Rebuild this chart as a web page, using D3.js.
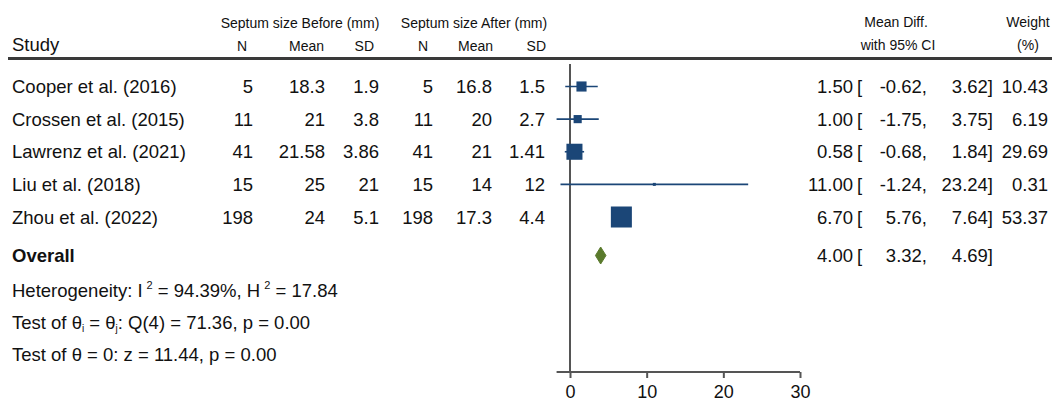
<!DOCTYPE html>
<html>
<head>
<meta charset="utf-8">
<script src="https://cdn.jsdelivr.net/npm/d3@7/dist/d3.min.js"></script>
<style>
  html, body { margin: 0; padding: 0; background: #fff; }
  svg { display: block; font-family: "Liberation Sans", Arial, sans-serif; }
</style>
</head>
<body>
<svg id="chart" width="1052" height="401"></svg>
<script>
// Studies and their summary data
const studies   = ["Cooper et al. (2016)", "Crossen et al. (2015)", "Lawrenz et al. (2021)", "Liu et al. (2018)", "Zhou et al. (2022)"];
const nBefore   = ["5", "11", "41", "15", "198"];
const meanBefore= ["18.3", "21", "21.58", "25", "24"];
const sdBefore  = ["1.9", "3.8", "3.86", "21", "5.1"];
const nAfter    = ["5", "11", "41", "15", "198"];
const meanAfter = ["16.8", "20", "21", "14", "17.3"];
const sdAfter   = ["1.5", "2.7", "1.41", "12", "4.4"];
const meanDiff  = [1.50, 1.00, 0.58, 11.00, 6.70];
const ciLower   = [-0.62, -1.75, -0.68, -1.24, 5.76];
const ciUpper   = [3.62, 3.75, 1.84, 23.24, 7.64];
const weights   = [10.43, 6.19, 29.69, 0.31, 53.37];

// Pooled estimate
const overall = { md: 4.00, lo: 3.32, hi: 4.69 };
const statLines = [
  [{t: "Heterogeneity: I"}, {t: "2", sup: true}, {t: " = 94.39%, H"}, {t: "2", sup: true}, {t: " = 17.84"}],
  [{t: "Test of θ"}, {t: "i", sub: true}, {t: " = θ"}, {t: "j", sub: true}, {t: ": Q(4) = 71.36, p = 0.00"}],
  [{t: "Test of θ = 0: z = 11.44, p = 0.00"}]
];
const xTicks = [0, 10, 20, 30];

const svg = d3.select("#chart");
const navy = "#1b4677";
const green = "#5a7a2c";
const ink = "#111";
const fs = 18.5;

// Scales
const x = d3.scaleLinear().domain([0, 30]).range([570, 800]);
const y = d3.scalePoint().domain(studies).range([86.5, 217]);
const yOverall = 255.5;
const boxSize = d3.scaleSqrt().domain([0, d3.max(weights)]).range([0, 19.5]);

// Header
const hdr = svg.append("g").attr("font-size", 14).attr("fill", ink);
hdr.append("text").attr("x", 300).attr("y", 28).attr("text-anchor", "middle").text("Septum size Before (mm)");
hdr.append("text").attr("x", 474).attr("y", 28).attr("text-anchor", "middle").text("Septum size After (mm)");
hdr.append("text").attr("x", 896).attr("y", 27).attr("text-anchor", "middle").text("Mean Diff.");
hdr.append("text").attr("x", 1028).attr("y", 27).attr("text-anchor", "middle").text("Weight");
hdr.append("text").attr("x", 898).attr("y", 50).attr("text-anchor", "middle").text("with 95% CI");
hdr.append("text").attr("x", 1028).attr("y", 50).attr("text-anchor", "middle").text("(%)");
const subHeads = [["N", 247], ["Mean", 324], ["SD", 374], ["N", 428], ["Mean", 493], ["SD", 546]];
subHeads.forEach(([t, xr]) => {
  hdr.append("text").attr("x", xr).attr("y", 51).attr("text-anchor", "end").text(t);
});
svg.append("text").attr("x", 12).attr("y", 51).attr("font-size", 18.5).attr("fill", ink).text("Study");
svg.append("line").attr("x1", 8).attr("x2", 1052).attr("y1", 58.5).attr("y2", 58.5)
  .attr("stroke", "#3a3a3a").attr("stroke-width", 3);

// Table columns (right edges)
const cols = [
  [nBefore, 253], [meanBefore, 325], [sdBefore, 379],
  [nAfter, 433], [meanAfter, 492], [sdAfter, 545]
];
const body = svg.append("g").attr("font-size", fs).attr("fill", ink);
studies.forEach((s, i) => {
  const yy = y(s) + 6.6;
  body.append("text").attr("x", 12).attr("y", yy).text(s);
  cols.forEach(([arr, xr]) => {
    body.append("text").attr("x", xr).attr("y", yy).attr("text-anchor", "end").text(arr[i]);
  });
});

// Effect-size text columns
function ciText(md, lo, hi, w, yy) {
  body.append("text").attr("x", 853).attr("y", yy).attr("text-anchor", "end").text(md.toFixed(2));
  body.append("text").attr("x", 857).attr("y", yy).text("[");
  body.append("text").attr("x", 927).attr("y", yy).attr("text-anchor", "end").text(lo.toFixed(2) + ",");
  body.append("text").attr("x", 993).attr("y", yy).attr("text-anchor", "end").text(hi.toFixed(2) + "]");
  if (w != null) body.append("text").attr("x", 1048).attr("y", yy).attr("text-anchor", "end").text(w.toFixed(2));
}
studies.forEach((s, i) => ciText(meanDiff[i], ciLower[i], ciUpper[i], weights[i], y(s) + 6.6));
ciText(overall.md, overall.lo, overall.hi, null, yOverall + 6.6);

// Overall label and statistics
body.append("text").attr("x", 12).attr("y", yOverall + 6.6).attr("font-weight", "bold").text("Overall");
statLines.forEach((parts, k) => {
  const t = body.append("text").attr("x", 12).attr("y", 296.5 + k * 32);
  parts.forEach(p => {
    const ts = t.append("tspan").text(p.t);
    if (p.sup) ts.attr("font-size", 11).attr("baseline-shift", "75%").attr("dx", 4);
    if (p.sub) ts.attr("font-size", 10).attr("baseline-shift", "-25%");
  });
});

// Zero reference line
const axisY = 372;
svg.append("line").attr("x1", x(0)).attr("x2", x(0)).attr("y1", 64).attr("y2", axisY)
  .attr("stroke", "#555").attr("stroke-width", 2);

// Confidence intervals and weighted boxes
const g = svg.append("g");
studies.forEach((s, i) => {
  g.append("line").attr("x1", x(ciLower[i])).attr("x2", x(ciUpper[i]))
    .attr("y1", y(s)).attr("y2", y(s)).attr("stroke", navy).attr("stroke-width", 1.6);
  const sz = boxSize(weights[i]);
  g.append("rect").attr("x", x(meanDiff[i]) - sz / 2).attr("y", y(s) - sz / 2)
    .attr("width", sz).attr("height", sz)
    .attr("fill", navy).attr("stroke", navy).attr("stroke-width", 1.5);
});

// Pooled diamond
const dh = 8.5;
g.append("path")
  .attr("d", `M${x(overall.lo)},${yOverall}L${x(overall.md)},${yOverall - dh}L${x(overall.hi)},${yOverall}L${x(overall.md)},${yOverall + dh}Z`)
  .attr("fill", green).attr("stroke", green).attr("stroke-width", 1);

// X axis
const ax = svg.append("g").attr("transform", `translate(0,${axisY})`)
  .call(d3.axisBottom(x).tickValues(xTicks).tickSize(6).tickSizeOuter(0).tickPadding(7));
ax.select(".domain").attr("d", `M${x(d3.min(ciLower))},0H${x(30)}`)
  .attr("stroke", "#555").attr("stroke-width", 2);
ax.selectAll(".tick line").attr("stroke", "#555").attr("stroke-width", 2);
ax.selectAll(".tick text").attr("font-size", 18).attr("fill", ink)
  .attr("font-family", "'Liberation Sans', Arial, sans-serif");
</script>
</body>
</html>
